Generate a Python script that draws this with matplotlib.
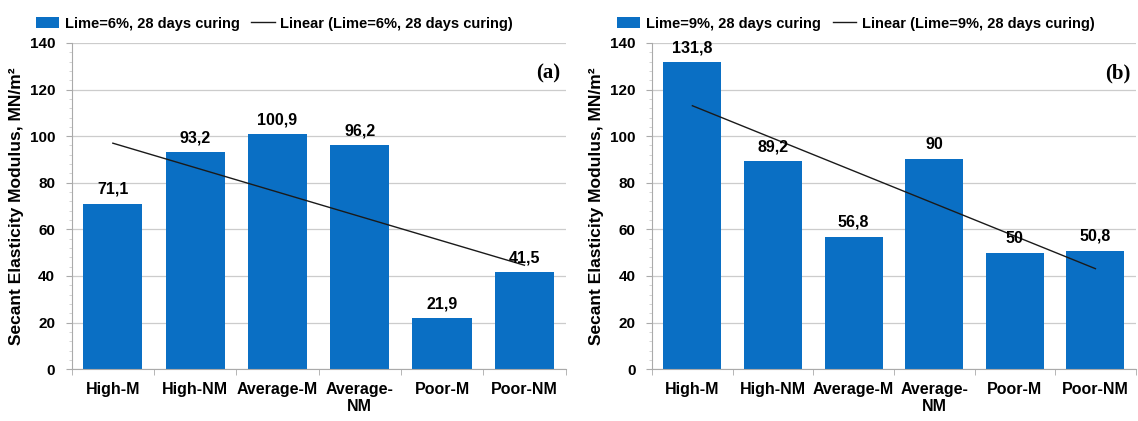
import numpy as np
import matplotlib
matplotlib.use("Agg")
import matplotlib.pyplot as plt
from matplotlib.ticker import MultipleLocator

plt.rcParams['font.family'] = ['Liberation Sans', 'DejaVu Sans']
plt.rcParams['font.weight'] = 'bold'

categories = ["High-M", "High-NM", "Average-M", "Average-\nNM", "Poor-M", "Poor-NM"]
lime6 = [71.1, 93.2, 100.9, 96.2, 21.9, 41.5]
lime9 = [131.8, 89.2, 56.8, 90, 50, 50.8]
labels6 = ["71,1", "93,2", "100,9", "96,2", "21,9", "41,5"]
labels9 = ["131,8", "89,2", "56,8", "90", "50", "50,8"]

blue = "#0a6fc4"
grid_c = "#cccccc"


def draw(ax, vals, texts, name, tag):
    x = np.arange(len(categories))
    bars = ax.bar(x, vals, width=0.72, color=blue, label=name, zorder=2)
    k, b = np.polyfit(x, vals, 1)
    line, = ax.plot(x, k * x + b, color="#1a1a1a", lw=1.0, label="Linear (" + name + ")", zorder=3)
    for r, t in zip(bars, texts):
        ax.text(r.get_x() + r.get_width() / 2, r.get_height() + 3, t,
                ha="center", va="bottom", fontsize=11.5, fontweight="bold")
    ax.set_xlim(-0.5, len(categories) - 0.5)
    ax.set_ylim(0, 140)
    ax.yaxis.set_major_locator(MultipleLocator(20))
    ax.yaxis.set_minor_locator(MultipleLocator(4))
    ax.set_xticks(x)
    ax.set_xticklabels(categories, fontsize=11.5, fontweight="bold")
    ax.set_xticks(np.arange(-0.5, len(categories)), minor=True)
    ax.tick_params(axis="x", which="major", length=0, pad=9)
    ax.tick_params(axis="x", which="minor", length=4, color="#aaaaaa")
    ax.tick_params(axis="y", which="major", length=4, color="#aaaaaa", labelsize=11, pad=8)
    ax.tick_params(axis="y", which="minor", length=2, color="#cccccc")
    for lab in ax.get_yticklabels():
        lab.set_fontweight("bold")
    ax.grid(axis="y", color=grid_c, lw=0.9, zorder=0)
    for s in ["top", "right"]:
        ax.spines[s].set_visible(False)
    ax.spines["left"].set_color("#aaaaaa")
    ax.spines["bottom"].set_color("#aaaaaa")
    ax.set_ylabel("Secant Elasticity Modulus, MN/m²", fontsize=12.5, fontweight="bold", labelpad=4)
    ax.text(0.99, 0.905, tag, transform=ax.transAxes, ha="right", va="center",
            fontsize=15, fontweight="bold", family=["Liberation Serif", "DejaVu Serif"])
    ax.legend([bars, line], [name, "Linear (" + name + ")"],
              loc="lower left", bbox_to_anchor=(-0.085, 1.02), ncol=2, frameon=False,
              fontsize=10.5, handlelength=1.6, columnspacing=0.8, handletextpad=0.4,
              borderaxespad=0)


fig = plt.figure(figsize=(11.38, 4.21), dpi=100)
ax1 = fig.add_axes([0.063, 0.123, 0.434, 0.775])
ax2 = fig.add_axes([0.573, 0.123, 0.425, 0.775])

draw(ax1, lime6, labels6, "Lime=6%, 28 days curing", "(a)")
draw(ax2, lime9, labels9, "Lime=9%, 28 days curing", "(b)")

fig.savefig("out.png", dpi=100)
